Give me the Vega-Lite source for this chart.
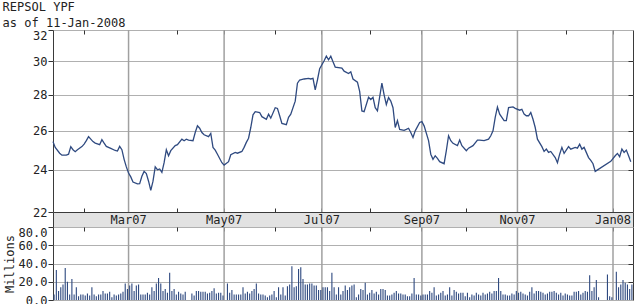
{
  "$schema": "https://vega.github.io/schema/vega-lite/v6.json",
  "autosize": {"type": "pad"},
  "padding": {"left": 2, "top": 0, "right": 0, "bottom": 0},
  "background": "white",
  "title": {"text": ["REPSOL YPF", "as of 11-Jan-2008"], "anchor": "start", "frame": "bounds", "fontSize": 12, "fontWeight": "normal", "font": "DejaVu Sans Mono", "color": "#222", "lineHeight": 16, "offset": -1},
  "datasets": {
    "labels": [
      {"date": "2007-03-01", "label": "Mar07"},
      {"date": "2007-05-01", "label": "May07"},
      {"date": "2007-07-02", "label": "Jul07"},
      {"date": "2007-09-03", "label": "Sep07"},
      {"date": "2007-11-01", "label": "Nov07"},
      {"date": "2008-01-01", "label": "Jan08"}
    ],
    "price": [
      {"date": "2007-01-12", "p": 25.43}, {"date": "2007-01-15", "p": 25.13}, {"date": "2007-01-17", "p": 24.83}, {"date": "2007-01-18", "p": 24.73},
      {"date": "2007-01-22", "p": 24.73}, {"date": "2007-01-23", "p": 24.78}, {"date": "2007-01-24", "p": 25.17}, {"date": "2007-01-25", "p": 25.01},
      {"date": "2007-01-26", "p": 24.91}, {"date": "2007-01-29", "p": 25.01}, {"date": "2007-01-31", "p": 25.17}, {"date": "2007-02-01", "p": 25.30},
      {"date": "2007-02-02", "p": 25.48}, {"date": "2007-02-05", "p": 25.69}, {"date": "2007-02-06", "p": 25.56}, {"date": "2007-02-07", "p": 25.43},
      {"date": "2007-02-08", "p": 25.35}, {"date": "2007-02-12", "p": 25.27}, {"date": "2007-02-13", "p": 25.53}, {"date": "2007-02-14", "p": 25.35},
      {"date": "2007-02-15", "p": 25.18}, {"date": "2007-02-19", "p": 25.08}, {"date": "2007-02-21", "p": 24.97}, {"date": "2007-02-22", "p": 24.94},
      {"date": "2007-02-23", "p": 25.18}, {"date": "2007-02-26", "p": 25.01}, {"date": "2007-02-27", "p": 24.52}, {"date": "2007-02-28", "p": 24.14},
      {"date": "2007-03-01", "p": 23.84}, {"date": "2007-03-02", "p": 23.65}, {"date": "2007-03-05", "p": 23.40}, {"date": "2007-03-07", "p": 23.31},
      {"date": "2007-03-08", "p": 23.32}, {"date": "2007-03-09", "p": 23.68}, {"date": "2007-03-12", "p": 23.92}, {"date": "2007-03-13", "p": 23.81},
      {"date": "2007-03-14", "p": 23.44}, {"date": "2007-03-15", "p": 23.00}, {"date": "2007-03-16", "p": 23.44}, {"date": "2007-03-19", "p": 24.14},
      {"date": "2007-03-20", "p": 24.00}, {"date": "2007-03-21", "p": 24.04}, {"date": "2007-03-22", "p": 23.87}, {"date": "2007-03-23", "p": 24.35},
      {"date": "2007-03-26", "p": 25.01}, {"date": "2007-03-27", "p": 24.70}, {"date": "2007-03-28", "p": 24.96}, {"date": "2007-03-30", "p": 25.22},
      {"date": "2007-04-02", "p": 25.27}, {"date": "2007-04-04", "p": 25.56}, {"date": "2007-04-05", "p": 25.48}, {"date": "2007-04-06", "p": 25.56},
      {"date": "2007-04-09", "p": 25.51}, {"date": "2007-04-11", "p": 25.48}, {"date": "2007-04-12", "p": 25.91}, {"date": "2007-04-13", "p": 26.27},
      {"date": "2007-04-16", "p": 26.14}, {"date": "2007-04-17", "p": 25.91}, {"date": "2007-04-18", "p": 25.79}, {"date": "2007-04-20", "p": 25.69},
      {"date": "2007-04-23", "p": 25.86}, {"date": "2007-04-24", "p": 25.13}, {"date": "2007-04-25", "p": 24.99}, {"date": "2007-04-26", "p": 24.78},
      {"date": "2007-04-30", "p": 24.35}, {"date": "2007-05-01", "p": 24.23}, {"date": "2007-05-03", "p": 24.40}, {"date": "2007-05-04", "p": 24.75},
      {"date": "2007-05-08", "p": 24.87}, {"date": "2007-05-09", "p": 24.83}, {"date": "2007-05-11", "p": 24.92}, {"date": "2007-05-14", "p": 25.13},
      {"date": "2007-05-15", "p": 25.39}, {"date": "2007-05-16", "p": 25.61}, {"date": "2007-05-17", "p": 26.18}, {"date": "2007-05-18", "p": 26.87},
      {"date": "2007-05-21", "p": 27.05}, {"date": "2007-05-23", "p": 27.00}, {"date": "2007-05-24", "p": 26.77}, {"date": "2007-05-28", "p": 26.63},
      {"date": "2007-05-29", "p": 26.91}, {"date": "2007-05-30", "p": 26.69}, {"date": "2007-06-01", "p": 27.27}, {"date": "2007-06-04", "p": 27.23},
      {"date": "2007-06-05", "p": 26.82}, {"date": "2007-06-06", "p": 26.40}, {"date": "2007-06-08", "p": 26.33}, {"date": "2007-06-11", "p": 26.73},
      {"date": "2007-06-12", "p": 26.91}, {"date": "2007-06-14", "p": 27.64}, {"date": "2007-06-15", "p": 28.68}, {"date": "2007-06-18", "p": 28.87},
      {"date": "2007-06-20", "p": 28.93}, {"date": "2007-06-22", "p": 28.97}, {"date": "2007-06-25", "p": 28.93}, {"date": "2007-06-26", "p": 28.97},
      {"date": "2007-06-27", "p": 28.29}, {"date": "2007-06-28", "p": 28.87}, {"date": "2007-06-29", "p": 29.55}, {"date": "2007-07-03", "p": 30.04},
      {"date": "2007-07-04", "p": 30.32}, {"date": "2007-07-05", "p": 30.10}, {"date": "2007-07-06", "p": 30.32}, {"date": "2007-07-09", "p": 29.97},
      {"date": "2007-07-10", "p": 29.65}, {"date": "2007-07-13", "p": 29.59}, {"date": "2007-07-16", "p": 29.40}, {"date": "2007-07-18", "p": 29.26},
      {"date": "2007-07-19", "p": 29.36}, {"date": "2007-07-20", "p": 28.93}, {"date": "2007-07-24", "p": 28.74}, {"date": "2007-07-25", "p": 28.20},
      {"date": "2007-07-26", "p": 27.09}, {"date": "2007-07-27", "p": 27.05}, {"date": "2007-07-31", "p": 27.86}, {"date": "2007-08-01", "p": 27.73},
      {"date": "2007-08-02", "p": 27.86}, {"date": "2007-08-03", "p": 27.27}, {"date": "2007-08-06", "p": 27.09}, {"date": "2007-08-08", "p": 28.68},
      {"date": "2007-08-09", "p": 28.00}, {"date": "2007-08-10", "p": 27.45}, {"date": "2007-08-13", "p": 27.85}, {"date": "2007-08-14", "p": 27.64},
      {"date": "2007-08-15", "p": 27.27}, {"date": "2007-08-16", "p": 26.18}, {"date": "2007-08-17", "p": 26.55}, {"date": "2007-08-20", "p": 26.08},
      {"date": "2007-08-22", "p": 26.03}, {"date": "2007-08-23", "p": 26.08}, {"date": "2007-08-24", "p": 26.14}, {"date": "2007-08-27", "p": 25.91},
      {"date": "2007-08-28", "p": 25.65}, {"date": "2007-08-29", "p": 26.00}, {"date": "2007-08-31", "p": 26.45}, {"date": "2007-09-03", "p": 26.50},
      {"date": "2007-09-04", "p": 26.27}, {"date": "2007-09-06", "p": 25.48}, {"date": "2007-09-07", "p": 24.78}, {"date": "2007-09-10", "p": 24.52},
      {"date": "2007-09-11", "p": 24.70}, {"date": "2007-09-12", "p": 24.57}, {"date": "2007-09-13", "p": 24.40}, {"date": "2007-09-17", "p": 24.30},
      {"date": "2007-09-18", "p": 24.96}, {"date": "2007-09-19", "p": 25.74}, {"date": "2007-09-20", "p": 25.48}, {"date": "2007-09-21", "p": 25.34},
      {"date": "2007-09-25", "p": 25.22}, {"date": "2007-09-26", "p": 25.51}, {"date": "2007-09-27", "p": 25.22}, {"date": "2007-10-01", "p": 24.96},
      {"date": "2007-10-02", "p": 25.09}, {"date": "2007-10-04", "p": 25.22}, {"date": "2007-10-08", "p": 25.51}, {"date": "2007-10-09", "p": 25.51},
      {"date": "2007-10-11", "p": 25.48}, {"date": "2007-10-15", "p": 25.56}, {"date": "2007-10-16", "p": 25.74}, {"date": "2007-10-17", "p": 26.00},
      {"date": "2007-10-18", "p": 26.73}, {"date": "2007-10-19", "p": 27.31}, {"date": "2007-10-22", "p": 26.91}, {"date": "2007-10-24", "p": 26.55},
      {"date": "2007-10-25", "p": 26.55}, {"date": "2007-10-26", "p": 27.27}, {"date": "2007-10-30", "p": 27.31}, {"date": "2007-10-31", "p": 27.23},
      {"date": "2007-11-02", "p": 27.13}, {"date": "2007-11-05", "p": 27.18}, {"date": "2007-11-06", "p": 26.91}, {"date": "2007-11-07", "p": 26.82},
      {"date": "2007-11-08", "p": 26.82}, {"date": "2007-11-09", "p": 27.00}, {"date": "2007-11-12", "p": 26.63}, {"date": "2007-11-13", "p": 26.18},
      {"date": "2007-11-14", "p": 25.56}, {"date": "2007-11-16", "p": 25.17}, {"date": "2007-11-19", "p": 24.92}, {"date": "2007-11-20", "p": 25.04},
      {"date": "2007-11-21", "p": 24.87}, {"date": "2007-11-22", "p": 24.92}, {"date": "2007-11-26", "p": 24.61}, {"date": "2007-11-27", "p": 24.35},
      {"date": "2007-11-28", "p": 24.78}, {"date": "2007-11-29", "p": 25.13}, {"date": "2007-11-30", "p": 24.82}, {"date": "2007-12-04", "p": 25.17},
      {"date": "2007-12-05", "p": 25.04}, {"date": "2007-12-07", "p": 25.13}, {"date": "2007-12-10", "p": 25.09}, {"date": "2007-12-11", "p": 25.30},
      {"date": "2007-12-12", "p": 25.04}, {"date": "2007-12-13", "p": 25.13}, {"date": "2007-12-17", "p": 24.61}, {"date": "2007-12-18", "p": 24.47},
      {"date": "2007-12-19", "p": 24.30}, {"date": "2007-12-20", "p": 23.92}, {"date": "2007-12-31", "p": 24.42}, {"date": "2008-01-02", "p": 24.70},
      {"date": "2008-01-03", "p": 24.82}, {"date": "2008-01-04", "p": 24.65}, {"date": "2008-01-07", "p": 25.04}, {"date": "2008-01-08", "p": 24.87},
      {"date": "2008-01-09", "p": 24.99}, {"date": "2008-01-10", "p": 24.70}, {"date": "2008-01-11", "p": 24.40}
    ],
    "volume": [
      {"date": "2007-01-12", "v": 6}, {"date": "2007-01-15", "v": 33}, {"date": "2007-01-16", "v": 10}, {"date": "2007-01-17", "v": 14}, {"date": "2007-01-18", "v": 17}, {"date": "2007-01-19", "v": 35},
      {"date": "2007-01-22", "v": 20}, {"date": "2007-01-23", "v": 6}, {"date": "2007-01-24", "v": 23}, {"date": "2007-01-25", "v": 6}, {"date": "2007-01-26", "v": 14},
      {"date": "2007-01-29", "v": 4}, {"date": "2007-01-30", "v": 6}, {"date": "2007-01-31", "v": 6}, {"date": "2007-02-01", "v": 5}, {"date": "2007-02-02", "v": 7},
      {"date": "2007-02-05", "v": 5}, {"date": "2007-02-06", "v": 14}, {"date": "2007-02-07", "v": 6}, {"date": "2007-02-08", "v": 4}, {"date": "2007-02-09", "v": 6},
      {"date": "2007-02-12", "v": 6}, {"date": "2007-02-13", "v": 10}, {"date": "2007-02-14", "v": 7}, {"date": "2007-02-15", "v": 7}, {"date": "2007-02-16", "v": 9},
      {"date": "2007-02-19", "v": 3}, {"date": "2007-02-20", "v": 6}, {"date": "2007-02-21", "v": 5}, {"date": "2007-02-22", "v": 6}, {"date": "2007-02-23", "v": 7},
      {"date": "2007-02-26", "v": 9}, {"date": "2007-02-27", "v": 18}, {"date": "2007-02-28", "v": 12}, {"date": "2007-03-01", "v": 16}, {"date": "2007-03-02", "v": 18},
      {"date": "2007-03-05", "v": 10}, {"date": "2007-03-06", "v": 16}, {"date": "2007-03-07", "v": 17}, {"date": "2007-03-08", "v": 6}, {"date": "2007-03-09", "v": 6},
      {"date": "2007-03-12", "v": 6}, {"date": "2007-03-13", "v": 8}, {"date": "2007-03-14", "v": 6}, {"date": "2007-03-15", "v": 14}, {"date": "2007-03-16", "v": 10},
      {"date": "2007-03-19", "v": 18}, {"date": "2007-03-20", "v": 24}, {"date": "2007-03-21", "v": 18}, {"date": "2007-03-22", "v": 10}, {"date": "2007-03-23", "v": 12},
      {"date": "2007-03-26", "v": 8}, {"date": "2007-03-27", "v": 30}, {"date": "2007-03-28", "v": 10}, {"date": "2007-03-29", "v": 12}, {"date": "2007-03-30", "v": 6},
      {"date": "2007-04-02", "v": 9}, {"date": "2007-04-03", "v": 7}, {"date": "2007-04-04", "v": 6}, {"date": "2007-04-05", "v": 9}, {"date": "2007-04-06", "v": 0},
      {"date": "2007-04-09", "v": 0}, {"date": "2007-04-10", "v": 7}, {"date": "2007-04-11", "v": 5}, {"date": "2007-04-12", "v": 10}, {"date": "2007-04-13", "v": 10},
      {"date": "2007-04-16", "v": 9}, {"date": "2007-04-17", "v": 9}, {"date": "2007-04-18", "v": 9}, {"date": "2007-04-19", "v": 7}, {"date": "2007-04-20", "v": 8},
      {"date": "2007-04-23", "v": 10}, {"date": "2007-04-24", "v": 13}, {"date": "2007-04-25", "v": 7}, {"date": "2007-04-26", "v": 8}, {"date": "2007-04-27", "v": 8},
      {"date": "2007-04-30", "v": 5}, {"date": "2007-05-01", "v": 0}, {"date": "2007-05-02", "v": 18}, {"date": "2007-05-03", "v": 8}, {"date": "2007-05-04", "v": 11},
      {"date": "2007-05-07", "v": 6}, {"date": "2007-05-08", "v": 6}, {"date": "2007-05-09", "v": 6}, {"date": "2007-05-10", "v": 6}, {"date": "2007-05-11", "v": 14},
      {"date": "2007-05-14", "v": 7}, {"date": "2007-05-15", "v": 9}, {"date": "2007-05-16", "v": 7}, {"date": "2007-05-17", "v": 10}, {"date": "2007-05-18", "v": 12},
      {"date": "2007-05-21", "v": 18}, {"date": "2007-05-22", "v": 7}, {"date": "2007-05-23", "v": 6}, {"date": "2007-05-24", "v": 6}, {"date": "2007-05-25", "v": 5},
      {"date": "2007-05-28", "v": 3}, {"date": "2007-05-29", "v": 5}, {"date": "2007-05-30", "v": 6}, {"date": "2007-05-31", "v": 10}, {"date": "2007-06-01", "v": 3},
      {"date": "2007-06-04", "v": 14}, {"date": "2007-06-05", "v": 6}, {"date": "2007-06-06", "v": 14}, {"date": "2007-06-07", "v": 5}, {"date": "2007-06-08", "v": 15},
      {"date": "2007-06-11", "v": 17}, {"date": "2007-06-12", "v": 37}, {"date": "2007-06-13", "v": 14}, {"date": "2007-06-14", "v": 15}, {"date": "2007-06-15", "v": 34},
      {"date": "2007-06-18", "v": 36}, {"date": "2007-06-19", "v": 23}, {"date": "2007-06-20", "v": 17}, {"date": "2007-06-21", "v": 17}, {"date": "2007-06-22", "v": 18},
      {"date": "2007-06-25", "v": 18}, {"date": "2007-06-26", "v": 16}, {"date": "2007-06-27", "v": 16}, {"date": "2007-06-28", "v": 11}, {"date": "2007-06-29", "v": 11},
      {"date": "2007-07-02", "v": 14}, {"date": "2007-07-03", "v": 14}, {"date": "2007-07-04", "v": 14}, {"date": "2007-07-05", "v": 10}, {"date": "2007-07-06", "v": 30},
      {"date": "2007-07-09", "v": 14}, {"date": "2007-07-10", "v": 6}, {"date": "2007-07-11", "v": 14}, {"date": "2007-07-12", "v": 6}, {"date": "2007-07-13", "v": 10},
      {"date": "2007-07-16", "v": 16}, {"date": "2007-07-17", "v": 11}, {"date": "2007-07-18", "v": 14}, {"date": "2007-07-19", "v": 16}, {"date": "2007-07-20", "v": 17},
      {"date": "2007-07-23", "v": 3}, {"date": "2007-07-24", "v": 6}, {"date": "2007-07-25", "v": 12}, {"date": "2007-07-26", "v": 11}, {"date": "2007-07-27", "v": 19},
      {"date": "2007-07-30", "v": 6}, {"date": "2007-07-31", "v": 8}, {"date": "2007-08-01", "v": 11}, {"date": "2007-08-02", "v": 7}, {"date": "2007-08-03", "v": 9},
      {"date": "2007-08-06", "v": 6}, {"date": "2007-08-07", "v": 12}, {"date": "2007-08-08", "v": 12}, {"date": "2007-08-09", "v": 11}, {"date": "2007-08-10", "v": 5},
      {"date": "2007-08-13", "v": 5}, {"date": "2007-08-14", "v": 6}, {"date": "2007-08-15", "v": 8}, {"date": "2007-08-16", "v": 10}, {"date": "2007-08-17", "v": 7},
      {"date": "2007-08-20", "v": 7}, {"date": "2007-08-21", "v": 6}, {"date": "2007-08-22", "v": 6}, {"date": "2007-08-23", "v": 4}, {"date": "2007-08-24", "v": 4},
      {"date": "2007-08-27", "v": 7}, {"date": "2007-08-28", "v": 24}, {"date": "2007-08-29", "v": 6}, {"date": "2007-08-30", "v": 6}, {"date": "2007-08-31", "v": 5},
      {"date": "2007-09-03", "v": 6}, {"date": "2007-09-04", "v": 6}, {"date": "2007-09-05", "v": 6}, {"date": "2007-09-06", "v": 10}, {"date": "2007-09-07", "v": 8},
      {"date": "2007-09-10", "v": 14}, {"date": "2007-09-11", "v": 5}, {"date": "2007-09-12", "v": 6}, {"date": "2007-09-13", "v": 8}, {"date": "2007-09-14", "v": 10},
      {"date": "2007-09-17", "v": 5}, {"date": "2007-09-18", "v": 6}, {"date": "2007-09-19", "v": 14}, {"date": "2007-09-20", "v": 5}, {"date": "2007-09-21", "v": 11},
      {"date": "2007-09-24", "v": 9}, {"date": "2007-09-25", "v": 7}, {"date": "2007-09-26", "v": 8}, {"date": "2007-09-27", "v": 8}, {"date": "2007-09-28", "v": 4},
      {"date": "2007-10-01", "v": 8}, {"date": "2007-10-02", "v": 3}, {"date": "2007-10-03", "v": 6}, {"date": "2007-10-04", "v": 5}, {"date": "2007-10-05", "v": 8},
      {"date": "2007-10-08", "v": 6}, {"date": "2007-10-09", "v": 5}, {"date": "2007-10-10", "v": 8}, {"date": "2007-10-11", "v": 6}, {"date": "2007-10-12", "v": 7},
      {"date": "2007-10-15", "v": 9}, {"date": "2007-10-16", "v": 7}, {"date": "2007-10-17", "v": 10}, {"date": "2007-10-18", "v": 10}, {"date": "2007-10-19", "v": 24},
      {"date": "2007-10-22", "v": 10}, {"date": "2007-10-23", "v": 6}, {"date": "2007-10-24", "v": 6}, {"date": "2007-10-25", "v": 5}, {"date": "2007-10-26", "v": 5},
      {"date": "2007-10-29", "v": 7}, {"date": "2007-10-30", "v": 6}, {"date": "2007-10-31", "v": 10}, {"date": "2007-11-01", "v": 8}, {"date": "2007-11-02", "v": 9},
      {"date": "2007-11-05", "v": 7}, {"date": "2007-11-06", "v": 6}, {"date": "2007-11-07", "v": 5}, {"date": "2007-11-08", "v": 9}, {"date": "2007-11-09", "v": 14},
      {"date": "2007-11-12", "v": 7}, {"date": "2007-11-13", "v": 10}, {"date": "2007-11-14", "v": 10}, {"date": "2007-11-15", "v": 9}, {"date": "2007-11-16", "v": 8},
      {"date": "2007-11-19", "v": 6}, {"date": "2007-11-20", "v": 7}, {"date": "2007-11-21", "v": 9}, {"date": "2007-11-22", "v": 9}, {"date": "2007-11-23", "v": 10},
      {"date": "2007-11-26", "v": 8}, {"date": "2007-11-27", "v": 6}, {"date": "2007-11-28", "v": 8}, {"date": "2007-11-29", "v": 5}, {"date": "2007-11-30", "v": 7},
      {"date": "2007-12-03", "v": 6}, {"date": "2007-12-04", "v": 5}, {"date": "2007-12-05", "v": 5}, {"date": "2007-12-06", "v": 9}, {"date": "2007-12-07", "v": 9},
      {"date": "2007-12-10", "v": 10}, {"date": "2007-12-11", "v": 6}, {"date": "2007-12-12", "v": 8}, {"date": "2007-12-13", "v": 10}, {"date": "2007-12-14", "v": 9},
      {"date": "2007-12-17", "v": 27}, {"date": "2007-12-18", "v": 10}, {"date": "2007-12-19", "v": 14}, {"date": "2007-12-20", "v": 22}, {"date": "2007-12-21", "v": 3},
      {"date": "2007-12-24", "v": 0}, {"date": "2007-12-25", "v": 0}, {"date": "2007-12-26", "v": 0}, {"date": "2007-12-27", "v": 28}, {"date": "2007-12-28", "v": 4},
      {"date": "2007-12-31", "v": 3}, {"date": "2008-01-01", "v": 0}, {"date": "2008-01-02", "v": 31}, {"date": "2008-01-03", "v": 14}, {"date": "2008-01-04", "v": 17},
      {"date": "2008-01-07", "v": 22}, {"date": "2008-01-08", "v": 19}, {"date": "2008-01-09", "v": 17}, {"date": "2008-01-10", "v": 12}, {"date": "2008-01-11", "v": 17}
    ]
  },
  "spacing": 0,
  "bounds": "flush",
  "resolve": {"scale": {"x": "shared", "y": "independent"}},
  "vconcat": [
    {
      "width": 580,
      "height": 182,
      "layer": [
        {
          "data": {"name": "labels"},
          "mark": {"type": "rule", "color": "#a0a0a0", "strokeWidth": 1.5},
          "encoding": {
            "x": {"field": "date", "type": "ordinal", "bandPosition": 0, "scale": {"type": "band", "paddingInner": 0, "paddingOuter": 0},
                  "axis": {"orient": "top", "values": ["2007-02-01", "2007-03-01", "2007-04-02", "2007-05-01", "2007-06-01", "2007-07-02", "2007-08-01", "2007-09-03", "2007-10-01", "2007-11-01", "2007-12-03", "2008-01-01"], "labels": false, "grid": false, "domain": false, "tickSize": -4, "tickColor": "#333", "title": null, "bandPosition": 0, "minExtent": 0, "maxExtent": 0}}
          }
        },
        {
          "data": {"name": "price"},
          "mark": {"type": "line", "color": "#2f4a80", "strokeWidth": 1.3},
          "encoding": {
            "x": {"field": "date", "type": "ordinal", "bandPosition": 0, "scale": {"type": "band", "paddingInner": 0, "paddingOuter": 0},
                  "axis": {"orient": "bottom", "values": ["2007-02-01", "2007-03-01", "2007-04-02", "2007-05-01", "2007-06-01", "2007-07-02", "2007-08-01", "2007-09-03", "2007-10-01", "2007-11-01", "2007-12-03", "2008-01-01"], "labels": false, "grid": false, "domain": false, "tickSize": -4, "tickColor": "#333", "title": null, "bandPosition": 0, "minExtent": 0, "maxExtent": 0}},
            "y": {"field": "p", "type": "quantitative", "scale": {"type": "log", "domain": [22, 32], "nice": false},
                  "axis": {"orient": "left", "values": [22, 24, 26, 28, 30, 32], "grid": true, "gridColor": "#b0b0b0", "gridWidth": 1.2, "domain": false, "tickSize": 5, "tickColor": "#333", "labelPadding": 1, "labelFlush": false, "labelOverlap": false, "labelBaseline": {"condition": {"test": "datum.value == 32", "value": "top"}, "value": "middle"}, "labelFontSize": 12, "labelColor": "#222", "title": null}}
          }
        },
        {
          "data": {"name": "price"},
          "mark": {"type": "line", "opacity": 0},
          "encoding": {
            "x": {"field": "date", "type": "ordinal", "bandPosition": 0, "scale": {"type": "band", "paddingInner": 0, "paddingOuter": 0}, "axis": null},
            "y": {"field": "p", "type": "quantitative", "scale": {"type": "log", "domain": [22, 32], "nice": false},
                  "axis": {"orient": "right", "values": [24, 26, 28, 30], "grid": false, "domain": false, "labels": false, "tickSize": -5, "tickColor": "#333", "title": null, "minExtent": 0, "maxExtent": 0}}
          }
        }
      ],
      "resolve": {"axis": {"x": "independent", "y": "independent"}}
    },
    {
      "width": 580,
      "height": 15,
      "view": {"fill": "#e2e2e2"},
      "data": {"name": "labels"},
      "mark": {"type": "text", "fontSize": 12, "color": "#222", "baseline": "middle", "font": "DejaVu Sans Mono"},
      "encoding": {
        "x": {"field": "date", "type": "ordinal", "bandPosition": 0, "scale": {"type": "band", "paddingInner": 0, "paddingOuter": 0}, "axis": null},
        "text": {"field": "label"}
      }
    },
    {
      "width": 580,
      "height": 73,
      "layer": [
        {
          "data": {"name": "labels"},
          "mark": {"type": "rule", "color": "#a0a0a0", "strokeWidth": 1.5},
          "encoding": {
            "x": {"field": "date", "type": "ordinal", "bandPosition": 0, "scale": {"type": "band", "paddingInner": 0, "paddingOuter": 0},
                  "axis": {"orient": "top", "values": ["2007-02-01", "2007-03-01", "2007-04-02", "2007-05-01", "2007-06-01", "2007-07-02", "2007-08-01", "2007-09-03", "2007-10-01", "2007-11-01", "2007-12-03", "2008-01-01"], "labels": false, "grid": false, "domain": false, "tickSize": -4, "tickColor": "#333", "title": null, "bandPosition": 0, "minExtent": 0, "maxExtent": 0}}
          }
        },
        {
          "data": {"name": "volume"},
          "mark": {"type": "bar", "color": "#2f4a80", "width": {"band": 0.5}},
          "encoding": {
            "x": {"field": "date", "type": "ordinal", "bandPosition": 0, "scale": {"type": "band", "paddingInner": 0, "paddingOuter": 0}, "axis": null},
            "y": {"field": "v", "type": "quantitative", "scale": {"domain": [0, 80], "nice": false},
                  "axis": {"orient": "left", "values": [0, 20, 40, 60, 80], "format": ".1f", "grid": true, "gridColor": "#b0b0b0", "gridWidth": 1.2, "domain": false, "tickSize": 5, "tickColor": "#333", "labelPadding": 1, "labelFlush": false, "labelOverlap": false, "labelBaseline": {"condition": {"test": "datum.value == 80", "value": "top"}, "value": "middle"}, "labelFontSize": 12, "labelColor": "#222", "title": "Millions", "titleFontSize": 12, "titleFontWeight": "normal", "titleColor": "#222", "titlePadding": 2}}
          }
        },
        {
          "data": {"name": "volume"},
          "mark": {"type": "bar", "opacity": 0},
          "encoding": {
            "x": {"field": "date", "type": "ordinal", "bandPosition": 0, "scale": {"type": "band", "paddingInner": 0, "paddingOuter": 0}, "axis": null},
            "y": {"field": "v", "type": "quantitative", "scale": {"domain": [0, 80], "nice": false},
                  "axis": {"orient": "right", "values": [20, 40, 60], "grid": false, "domain": false, "labels": false, "tickSize": -5, "tickColor": "#333", "title": null, "minExtent": 0, "maxExtent": 0}}
          }
        }
      ],
      "resolve": {"axis": {"x": "independent", "y": "independent"}}
    }
  ],
  "config": {
    "font": "DejaVu Sans Mono",
    "view": {"stroke": "#3a3a3a", "strokeWidth": 1},
    "axis": {"labelFont": "DejaVu Sans Mono", "titleFont": "DejaVu Sans Mono"}
  }
}
